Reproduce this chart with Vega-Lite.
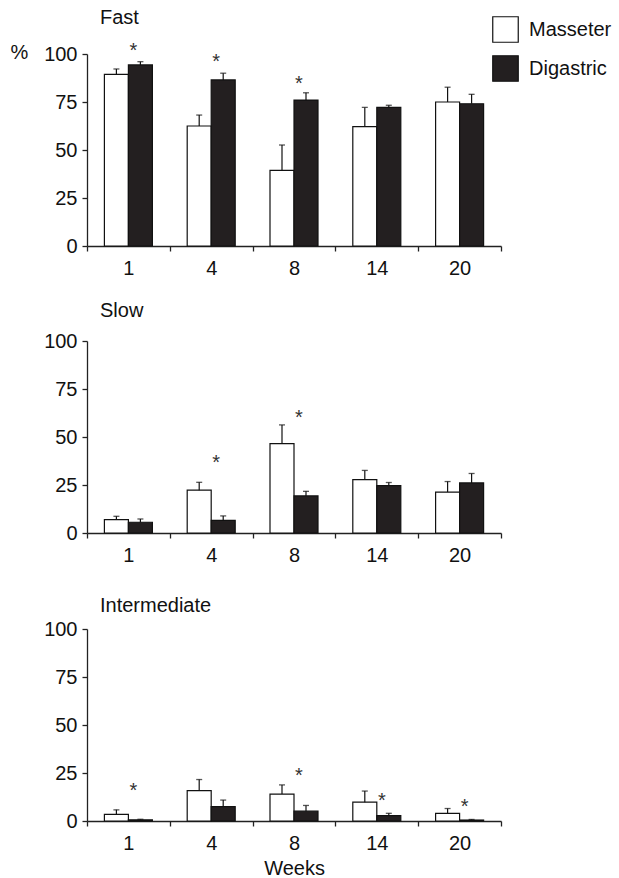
{
  "$schema": "https://vega.github.io/schema/vega-lite/v6.json",
  "padding": {"left": 10, "top": 8, "right": 0, "bottom": 0},
  "datasets": {
    "bars": [
      {"panel": "Fast", "week": 1, "muscle": "Masseter", "value": 89.4, "upper": 92.2},
      {"panel": "Fast", "week": 1, "muscle": "Digastric", "value": 94.3, "upper": 96.0},
      {"panel": "Fast", "week": 4, "muscle": "Masseter", "value": 62.5, "upper": 68.2},
      {"panel": "Fast", "week": 4, "muscle": "Digastric", "value": 86.5, "upper": 90.0},
      {"panel": "Fast", "week": 8, "muscle": "Masseter", "value": 39.4, "upper": 52.6},
      {"panel": "Fast", "week": 8, "muscle": "Digastric", "value": 76.0, "upper": 79.8},
      {"panel": "Fast", "week": 14, "muscle": "Masseter", "value": 62.2, "upper": 72.2},
      {"panel": "Fast", "week": 14, "muscle": "Digastric", "value": 72.2, "upper": 73.3},
      {"panel": "Fast", "week": 20, "muscle": "Masseter", "value": 75.0, "upper": 82.7},
      {"panel": "Fast", "week": 20, "muscle": "Digastric", "value": 74.1, "upper": 79.0},
      {"panel": "Slow", "week": 1, "muscle": "Masseter", "value": 7.0, "upper": 8.7},
      {"panel": "Slow", "week": 1, "muscle": "Digastric", "value": 5.6, "upper": 7.3},
      {"panel": "Slow", "week": 4, "muscle": "Masseter", "value": 22.3, "upper": 26.4},
      {"panel": "Slow", "week": 4, "muscle": "Digastric", "value": 6.6, "upper": 8.9},
      {"panel": "Slow", "week": 8, "muscle": "Masseter", "value": 46.6, "upper": 56.3},
      {"panel": "Slow", "week": 8, "muscle": "Digastric", "value": 19.3, "upper": 21.7},
      {"panel": "Slow", "week": 14, "muscle": "Masseter", "value": 27.8, "upper": 32.6},
      {"panel": "Slow", "week": 14, "muscle": "Digastric", "value": 24.7, "upper": 26.3},
      {"panel": "Slow", "week": 20, "muscle": "Masseter", "value": 21.3, "upper": 26.8},
      {"panel": "Slow", "week": 20, "muscle": "Digastric", "value": 26.1, "upper": 31.0},
      {"panel": "Intermediate", "week": 1, "muscle": "Masseter", "value": 3.5, "upper": 5.8},
      {"panel": "Intermediate", "week": 1, "muscle": "Digastric", "value": 0.6, "upper": 0.9},
      {"panel": "Intermediate", "week": 4, "muscle": "Masseter", "value": 15.8, "upper": 21.6},
      {"panel": "Intermediate", "week": 4, "muscle": "Digastric", "value": 7.5, "upper": 10.9},
      {"panel": "Intermediate", "week": 8, "muscle": "Masseter", "value": 14.0, "upper": 18.8},
      {"panel": "Intermediate", "week": 8, "muscle": "Digastric", "value": 5.1, "upper": 8.1},
      {"panel": "Intermediate", "week": 14, "muscle": "Masseter", "value": 9.8, "upper": 15.6},
      {"panel": "Intermediate", "week": 14, "muscle": "Digastric", "value": 2.8, "upper": 4.0},
      {"panel": "Intermediate", "week": 20, "muscle": "Masseter", "value": 4.0, "upper": 6.5},
      {"panel": "Intermediate", "week": 20, "muscle": "Digastric", "value": 0.5, "upper": 0.8}
    ],
    "stars": [
      {"panel": "Fast", "week": 1, "star": 103.5},
      {"panel": "Fast", "week": 4, "star": 98.0},
      {"panel": "Fast", "week": 8, "star": 86.5},
      {"panel": "Slow", "week": 4, "star": 38.4},
      {"panel": "Slow", "week": 8, "star": 62.0},
      {"panel": "Intermediate", "week": 1, "star": 17.5},
      {"panel": "Intermediate", "week": 8, "star": 25.4},
      {"panel": "Intermediate", "week": 14, "star": 12.3},
      {"panel": "Intermediate", "week": 20, "star": 9.3}
    ]
  },
  "config": {
    "view": {"stroke": null},
    "font": "Liberation Sans",
    "axis": {
      "grid": false, "domainColor": "#222", "tickColor": "#222", "domainWidth": 1.3, "tickWidth": 1.3, "tickSize": 5,
      "labelFont": "Liberation Sans", "labelFontSize": 20, "labelColor": "#111",
      "titleFont": "Liberation Sans", "titleFontSize": 20, "titleFontWeight": "normal", "titleColor": "#111"
    },
    "title": {"font": "Liberation Sans", "fontSize": 20, "fontWeight": "normal", "color": "#111", "anchor": "start", "frame": "group", "dx": 13, "baseline": "alphabetic"},
    "legend": {
      "orient": "none", "legendX": 405, "legendY": -38, "title": null, "padding": 0,
      "symbolType": "square", "symbolSize": 650, "symbolStrokeColor": "#111", "symbolStrokeWidth": 1.2,
      "labelFont": "Liberation Sans", "labelFontSize": 20, "labelColor": "#111", "labelOffset": 10, "rowPadding": 8
    }
  },
  "resolve": {"scale": {"color": "shared"}, "legend": {"color": "shared"}},
  "spacing": 23,
  "vconcat": [
    {
      "width": 414, "height": 192,
      "title": {"text": "Fast", "offset": 13},
      "layer": [
        {
          "data": {"name": "bars"},
          "transform": [{"filter": "datum.panel === 'Fast'"}],
          "mark": {"type": "bar", "stroke": "#111", "strokeWidth": 1.2},
          "encoding": {
            "x": {"field": "week", "type": "ordinal", "scale": {"domain": [1, 4, 8, 14, 20], "paddingInner": 0, "paddingOuter": 0},
                  "axis": {"tickBand": "extent", "labelAngle": 0, "labelPadding": 7, "title": null}},
            "xOffset": {"field": "muscle", "type": "nominal", "scale": {"domain": ["Masseter", "Digastric"], "paddingInner": 0, "paddingOuter": 0.725}},
            "y": {"field": "value", "type": "quantitative", "scale": {"domain": [0, 100], "nice": false},
                  "axis": {"values": [0, 25, 50, 75, 100], "labelPadding": 5, "title": "%", "titleAngle": 0, "titleX": -77, "titleY": -2, "titleAlign": "left", "titleBaseline": "middle"}},
            "color": {"field": "muscle", "type": "nominal", "scale": {"domain": ["Masseter", "Digastric"], "range": ["#ffffff", "#231f20"]}}
          }
        },
        {
          "data": {"name": "bars"},
          "transform": [{"filter": "datum.panel === 'Fast'"}],
          "mark": {"type": "rule", "color": "#111", "strokeWidth": 1.2},
          "encoding": {
            "x": {"field": "week", "type": "ordinal"},
            "xOffset": {"field": "muscle", "type": "nominal"},
            "y": {"field": "value", "type": "quantitative"},
            "y2": {"field": "upper"}
          }
        },
        {
          "data": {"name": "bars"},
          "transform": [{"filter": "datum.panel === 'Fast'"}],
          "mark": {"type": "tick", "orient": "horizontal", "size": 6, "thickness": 1.3, "color": "#111"},
          "encoding": {
            "x": {"field": "week", "type": "ordinal"},
            "xOffset": {"field": "muscle", "type": "nominal"},
            "y": {"field": "upper", "type": "quantitative"}
          }
        },
        {
          "data": {"name": "stars"},
          "transform": [{"filter": "datum.panel === 'Fast'"}],
          "mark": {"type": "text", "text": "*", "fontSize": 20, "color": "#333", "dx": 5, "dy": 4, "baseline": "middle"},
          "encoding": {
            "x": {"field": "week", "type": "ordinal"},
            "y": {"field": "star", "type": "quantitative"}
          }
        }
      ]
    },
    {
      "spacing": 31,
      "resolve": {"scale": {"color": "shared"}, "legend": {"color": "shared"}},
      "vconcat": [
        {
          "width": 414, "height": 192,
          "title": {"text": "Slow", "offset": 10},
          "layer": [
            {
              "data": {"name": "bars"},
              "transform": [{"filter": "datum.panel === 'Slow'"}],
              "mark": {"type": "bar", "stroke": "#111", "strokeWidth": 1.2},
              "encoding": {
                "x": {"field": "week", "type": "ordinal", "scale": {"domain": [1, 4, 8, 14, 20], "paddingInner": 0, "paddingOuter": 0},
                      "axis": {"tickBand": "extent", "labelAngle": 0, "labelPadding": 7, "title": null}},
                "xOffset": {"field": "muscle", "type": "nominal", "scale": {"domain": ["Masseter", "Digastric"], "paddingInner": 0, "paddingOuter": 0.725}},
                "y": {"field": "value", "type": "quantitative", "scale": {"domain": [0, 100], "nice": false},
                      "axis": {"values": [0, 25, 50, 75, 100], "labelPadding": 5, "title": null}},
                "color": {"field": "muscle", "type": "nominal", "scale": {"domain": ["Masseter", "Digastric"], "range": ["#ffffff", "#231f20"]}}
              }
            },
            {
              "data": {"name": "bars"},
              "transform": [{"filter": "datum.panel === 'Slow'"}],
              "mark": {"type": "rule", "color": "#111", "strokeWidth": 1.2},
              "encoding": {
                "x": {"field": "week", "type": "ordinal"},
                "xOffset": {"field": "muscle", "type": "nominal"},
                "y": {"field": "value", "type": "quantitative"},
                "y2": {"field": "upper"}
              }
            },
            {
              "data": {"name": "bars"},
              "transform": [{"filter": "datum.panel === 'Slow'"}],
              "mark": {"type": "tick", "orient": "horizontal", "size": 6, "thickness": 1.3, "color": "#111"},
              "encoding": {
                "x": {"field": "week", "type": "ordinal"},
                "xOffset": {"field": "muscle", "type": "nominal"},
                "y": {"field": "upper", "type": "quantitative"}
              }
            },
            {
              "data": {"name": "stars"},
              "transform": [{"filter": "datum.panel === 'Slow'"}],
              "mark": {"type": "text", "text": "*", "fontSize": 20, "color": "#333", "dx": 5, "dy": 4, "baseline": "middle"},
              "encoding": {
                "x": {"field": "week", "type": "ordinal"},
                "y": {"field": "star", "type": "quantitative"}
              }
            }
          ]
        },
        {
          "width": 414, "height": 192,
          "title": {"text": "Intermediate", "offset": 3},
          "layer": [
            {
              "data": {"name": "bars"},
              "transform": [{"filter": "datum.panel === 'Intermediate'"}],
              "mark": {"type": "bar", "stroke": "#111", "strokeWidth": 1.2},
              "encoding": {
                "x": {"field": "week", "type": "ordinal", "scale": {"domain": [1, 4, 8, 14, 20], "paddingInner": 0, "paddingOuter": 0},
                      "axis": {"tickBand": "extent", "labelAngle": 0, "labelPadding": 7, "title": "Weeks", "titlePadding": 5}},
                "xOffset": {"field": "muscle", "type": "nominal", "scale": {"domain": ["Masseter", "Digastric"], "paddingInner": 0, "paddingOuter": 0.725}},
                "y": {"field": "value", "type": "quantitative", "scale": {"domain": [0, 100], "nice": false},
                      "axis": {"values": [0, 25, 50, 75, 100], "labelPadding": 5, "title": null}},
                "color": {"field": "muscle", "type": "nominal", "scale": {"domain": ["Masseter", "Digastric"], "range": ["#ffffff", "#231f20"]}}
              }
            },
            {
              "data": {"name": "bars"},
              "transform": [{"filter": "datum.panel === 'Intermediate'"}],
              "mark": {"type": "rule", "color": "#111", "strokeWidth": 1.2},
              "encoding": {
                "x": {"field": "week", "type": "ordinal"},
                "xOffset": {"field": "muscle", "type": "nominal"},
                "y": {"field": "value", "type": "quantitative"},
                "y2": {"field": "upper"}
              }
            },
            {
              "data": {"name": "bars"},
              "transform": [{"filter": "datum.panel === 'Intermediate'"}],
              "mark": {"type": "tick", "orient": "horizontal", "size": 6, "thickness": 1.3, "color": "#111"},
              "encoding": {
                "x": {"field": "week", "type": "ordinal"},
                "xOffset": {"field": "muscle", "type": "nominal"},
                "y": {"field": "upper", "type": "quantitative"}
              }
            },
            {
              "data": {"name": "stars"},
              "transform": [{"filter": "datum.panel === 'Intermediate'"}],
              "mark": {"type": "text", "text": "*", "fontSize": 20, "color": "#333", "dx": 5, "dy": 4, "baseline": "middle"},
              "encoding": {
                "x": {"field": "week", "type": "ordinal"},
                "y": {"field": "star", "type": "quantitative"}
              }
            }
          ]
        }
      ]
    }
  ]
}
